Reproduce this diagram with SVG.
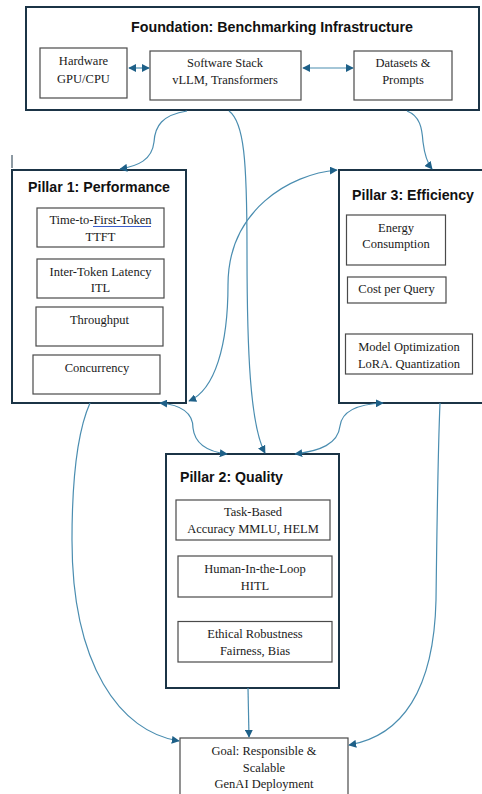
<svg xmlns="http://www.w3.org/2000/svg" width="482" height="794" viewBox="0 0 482 794">
  <style>
    .outer { fill: #ffffff; stroke: #1b3446; stroke-width: 2; }
    .inner { fill: #ffffff; stroke: #4a4a4a; stroke-width: 1.2; }
    .title { font-family: "Liberation Sans", Arial, sans-serif; font-weight: bold; font-size: 14px; fill: #111111; text-anchor: middle; }
    .label { font-family: "Liberation Serif", "Times New Roman", serif; font-size: 12.5px; fill: #1a1a1a; text-anchor: middle; }
    .conn { fill: none; stroke: #4a8db0; stroke-width: 1.2; }
  </style>
  <defs>
    <marker id="arrow" viewBox="0 0 10 10" refX="9" refY="5" markerWidth="8" markerHeight="8" markerUnits="userSpaceOnUse" orient="auto-start-reverse">
      <path d="M0,0 L10,5 L0,10 z" fill="#1e6088"/>
    </marker>
  </defs>

  <rect width="482" height="794" fill="#ffffff"/>

  <!-- Foundation -->
  <g id="foundation">
    <rect class="outer" x="26" y="7" width="453" height="103"/>
    <text class="title" x="272" y="32" textLength="282" lengthAdjust="spacingAndGlyphs">Foundation: Benchmarking Infrastructure</text>
  </g>
  <g id="hardware">
    <rect class="inner" x="40" y="48" width="87" height="50"/>
    <text class="label" x="83.5" y="65">Hardware</text>
    <text class="label" x="83.5" y="83">GPU/CPU</text>
  </g>
  <g id="software">
    <rect class="inner" x="150" y="51" width="151" height="49"/>
    <text class="label" x="225" y="67">Software Stack</text>
    <text class="label" x="225" y="84">vLLM, Transformers</text>
  </g>
  <g id="datasets">
    <rect class="inner" x="354" y="51" width="98" height="49"/>
    <text class="label" x="403" y="67">Datasets &amp;</text>
    <text class="label" x="403" y="84">Prompts</text>
  </g>

  <!-- Pillar 1 -->
  <line x1="12" y1="155" x2="12" y2="168" stroke="#1b3446" stroke-width="1"/>
  <g id="pillar1">
    <rect class="outer" x="12" y="170" width="174" height="233"/>
    <text class="title" x="99" y="192" textLength="142" lengthAdjust="spacingAndGlyphs">Pillar 1: Performance</text>
  </g>
  <g id="ttft">
    <rect class="inner" x="37" y="208" width="127" height="39"/>
    <text class="label" x="100.5" y="224">Time-to-First-Token</text>
    <line x1="93" y1="226.5" x2="151" y2="226.5" stroke="#3a5cc8" stroke-width="1"/>
    <text class="label" x="100.5" y="241">TTFT</text>
  </g>
  <g id="itl">
    <rect class="inner" x="37" y="259" width="127" height="39"/>
    <text class="label" x="100.5" y="276">Inter-Token Latency</text>
    <text class="label" x="100.5" y="292">ITL</text>
  </g>
  <g id="throughput">
    <rect class="inner" x="36" y="307" width="127" height="39"/>
    <text class="label" x="99.5" y="324">Throughput</text>
  </g>
  <g id="concurrency">
    <rect class="inner" x="33" y="355" width="127" height="39"/>
    <text class="label" x="97" y="372">Concurrency</text>
  </g>

  <!-- Pillar 3 -->
  <g id="pillar3">
    <rect class="outer" x="339" y="170" width="146" height="233"/>
    <text class="title" x="413" y="200" textLength="122" lengthAdjust="spacingAndGlyphs">Pillar 3: Efficiency</text>
  </g>
  <g id="energy">
    <rect class="inner" x="346.5" y="215" width="99" height="50"/>
    <text class="label" x="396" y="232">Energy</text>
    <text class="label" x="396" y="248">Consumption</text>
  </g>
  <g id="cost">
    <rect class="inner" x="347.5" y="277" width="98.5" height="26"/>
    <text class="label" x="396.5" y="293">Cost per Query</text>
  </g>
  <g id="optimization">
    <rect class="inner" x="345.5" y="334" width="127" height="40"/>
    <text class="label" x="409" y="351">Model Optimization</text>
    <text class="label" x="409" y="367.5">LoRA. Quantization</text>
  </g>

  <!-- Pillar 2 -->
  <g id="pillar2">
    <rect class="outer" x="166" y="454" width="173" height="234"/>
    <text class="title" x="231.5" y="482" textLength="103" lengthAdjust="spacingAndGlyphs">Pillar 2: Quality</text>
  </g>
  <g id="accuracy">
    <rect class="inner" x="176" y="500" width="154" height="40"/>
    <text class="label" x="253" y="516">Task-Based</text>
    <text class="label" x="253" y="533">Accuracy MMLU, HELM</text>
  </g>
  <g id="hitl">
    <rect class="inner" x="178" y="556" width="154" height="41"/>
    <text class="label" x="255" y="572.5">Human-In-the-Loop</text>
    <text class="label" x="255" y="590">HITL</text>
  </g>
  <g id="ethics">
    <rect class="inner" x="178" y="621.5" width="154" height="40.5"/>
    <text class="label" x="255" y="638">Ethical Robustness</text>
    <text class="label" x="255" y="655">Fairness, Bias</text>
  </g>

  <!-- Goal -->
  <g id="goal">
    <rect class="inner" x="180" y="738" width="168" height="70"/>
    <text class="label" x="264" y="755">Goal: Responsible &amp;</text>
    <text class="label" x="264" y="771.5">Scalable</text>
    <text class="label" x="264" y="788">GenAI Deployment</text>
  </g>

  <!-- Connectors -->
  <g id="connectors">
    <path class="conn" d="M129,68 L149,68" marker-start="url(#arrow)" marker-end="url(#arrow)"/>
    <path class="conn" d="M303,68 L353,68" marker-start="url(#arrow)" marker-end="url(#arrow)"/>
    <path class="conn" d="M187,111 C162,115 155,126 154,142 C152,160 138,166 120,169" marker-end="url(#arrow)"/>
    <path class="conn" d="M229,111 C244,122 247,160 247,250 C247,350 250,425 265,453" marker-end="url(#arrow)"/>
    <path class="conn" d="M407,111 C420,116 422,128 423,142 C425,158 428,164 432,169" marker-end="url(#arrow)"/>
    <path class="conn" d="M189,401 C215,390 228,345 228,285 C228,210 290,174 337,170" marker-start="url(#arrow)" marker-end="url(#arrow)"/>
    <path class="conn" d="M160,403 C183,405 193,414 193,428 C195,446 210,452 227,454" marker-start="url(#arrow)" marker-end="url(#arrow)"/>
    <path class="conn" d="M295,454 C320,451 338,444 340,426 C342,410 360,404 383,403" marker-start="url(#arrow)" marker-end="url(#arrow)"/>
    <path class="conn" d="M90,403 C78,430 72,480 72,540 C72,665 120,732 179,741" marker-end="url(#arrow)"/>
    <path class="conn" d="M440,403 C438,450 437,520 436,600 C434,690 402,736 349,745" marker-end="url(#arrow)"/>
    <path class="conn" d="M248,688 L249,737" marker-end="url(#arrow)"/>
  </g>
</svg>
